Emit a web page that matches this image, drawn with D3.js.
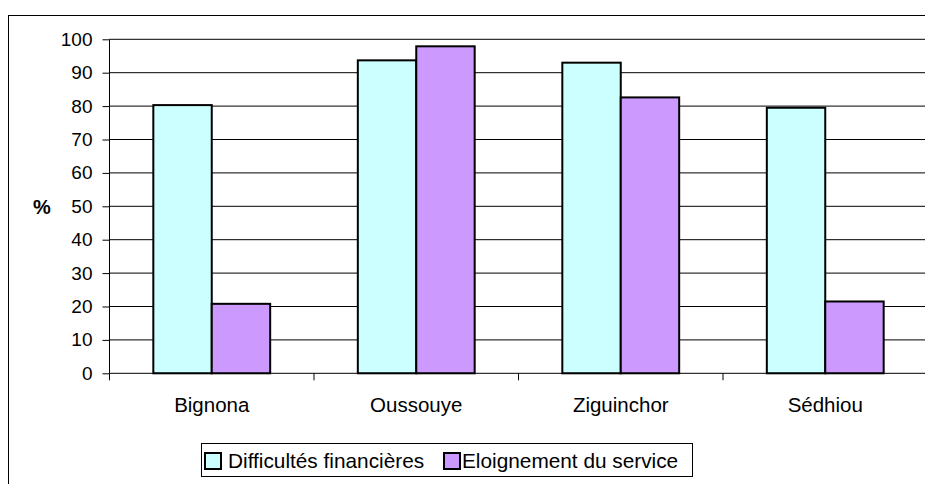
<!DOCTYPE html>
<html>
<head>
<meta charset="utf-8">
<script src="https://cdn.jsdelivr.net/npm/d3@7"></script>
<style>
  body { margin: 0; background: #fff; }
  svg { display: block; font-family: "Liberation Sans", Arial, sans-serif; }
</style>
</head>
<body>
<svg id="chart" width="925" height="484"></svg>
<script>
const regions = ["Bignona", "Oussouye", "Ziguinchor", "Sédhiou"];
const seriesNames = ["Difficultés financières", "Eloignement du service"];
const financieres = [80.3, 93.7, 93, 79.5];
const eloignement = [20.8, 97.9, 82.6, 21.5];
const yTicks = [0, 10, 20, 30, 40, 50, 60, 70, 80, 90, 100];
const colors = ["#ccffff", "#cc99ff"];

const svg = d3.select("#chart");

// outer frame of the chart area (runs off the window)
svg.append("rect")
    .attr("x", 8.5).attr("y", 15.5)
    .attr("width", 940).attr("height", 500)
    .attr("fill", "#fff").attr("stroke", "#000");

const plotLeft = 109.5, plotRight = 927.5, plotTop = 39.3, plotBottom = 373.3;

const x0 = d3.scaleBand().domain(regions).range([plotLeft, plotRight]).padding(0);
const x1 = d3.scaleBand().domain(seriesNames).range([0, x0.bandwidth()])
    .paddingInner(0).paddingOuter(0.75);
const y = d3.scaleLinear().domain([0, 100]).range([plotBottom, plotTop]);

// gridlines
svg.append("g").selectAll("line")
    .data(yTicks.filter(d => d > 0))
    .enter().append("line")
    .attr("x1", plotLeft).attr("x2", 925)
    .attr("y1", d => y(d)).attr("y2", d => y(d))
    .attr("stroke", "#000").attr("stroke-width", 1);

// bars
const rows = regions.map((r, i) => ({ region: r, values: [financieres[i], eloignement[i]] }));
const groups = svg.append("g").selectAll("g")
    .data(rows)
    .enter().append("g")
    .attr("transform", d => "translate(" + x0(d.region) + ",0)");

groups.selectAll("rect")
    .data(d => d.values.map((v, j) => ({ name: seriesNames[j], value: v, j: j })))
    .enter().append("rect")
    .attr("x", d => x1(d.name))
    .attr("width", x1.bandwidth())
    .attr("y", d => y(d.value))
    .attr("height", d => y(0) - y(d.value))
    .attr("fill", d => colors[d.j])
    .attr("stroke", "#000")
    .attr("stroke-width", 2);

// y axis
const yAxis = d3.axisLeft(y).tickValues(yTicks).tickSize(7).tickPadding(10);
const gy = svg.append("g")
    .attr("transform", "translate(" + plotLeft + ",0)")
    .call(yAxis);
gy.select(".domain").attr("stroke", "#000").attr("d", "M0," + plotTop + "V" + plotBottom);
gy.selectAll("text").attr("font-size", 19).attr("fill", "#000")
    .attr("font-family", "Liberation Sans, Arial, sans-serif");

// x axis
svg.append("line")
    .attr("x1", plotLeft).attr("x2", 925)
    .attr("y1", plotBottom).attr("y2", plotBottom)
    .attr("stroke", "#000");
const boundaries = regions.map(r => x0(r));
svg.append("g").selectAll("line")
    .data(boundaries)
    .enter().append("line")
    .attr("x1", d => d).attr("x2", d => d)
    .attr("y1", plotBottom).attr("y2", plotBottom + 7)
    .attr("stroke", "#000");
svg.append("g").selectAll("text")
    .data(regions)
    .enter().append("text")
    .attr("x", d => x0(d) + x0.bandwidth() / 2)
    .attr("y", 411.5)
    .attr("text-anchor", "middle")
    .attr("font-size", 20.5)
    .text(d => d);

// y axis title
svg.append("text")
    .attr("x", 42).attr("y", 214)
    .attr("text-anchor", "middle")
    .attr("font-size", 20)
    .attr("font-weight", "bold")
    .text("%");

// legend
const legend = svg.append("g");
legend.append("rect")
    .attr("x", 201.5).attr("y", 443.5)
    .attr("width", 491).attr("height", 33)
    .attr("fill", "#fff").attr("stroke", "#000");
const legendItems = [
    { name: seriesNames[0], color: colors[0], mx: 205, tx: 228 },
    { name: seriesNames[1], color: colors[1], mx: 444, tx: 462 }
];
legend.selectAll("rect.key")
    .data(legendItems)
    .enter().append("rect")
    .attr("class", "key")
    .attr("x", d => d.mx).attr("y", 453)
    .attr("width", 16).attr("height", 16)
    .attr("fill", d => d.color)
    .attr("stroke", "#000").attr("stroke-width", 2);
legend.selectAll("text")
    .data(legendItems)
    .enter().append("text")
    .attr("x", d => d.tx).attr("y", 468)
    .attr("font-size", 20.8)
    .text(d => d.name);
</script>
</body>
</html>
